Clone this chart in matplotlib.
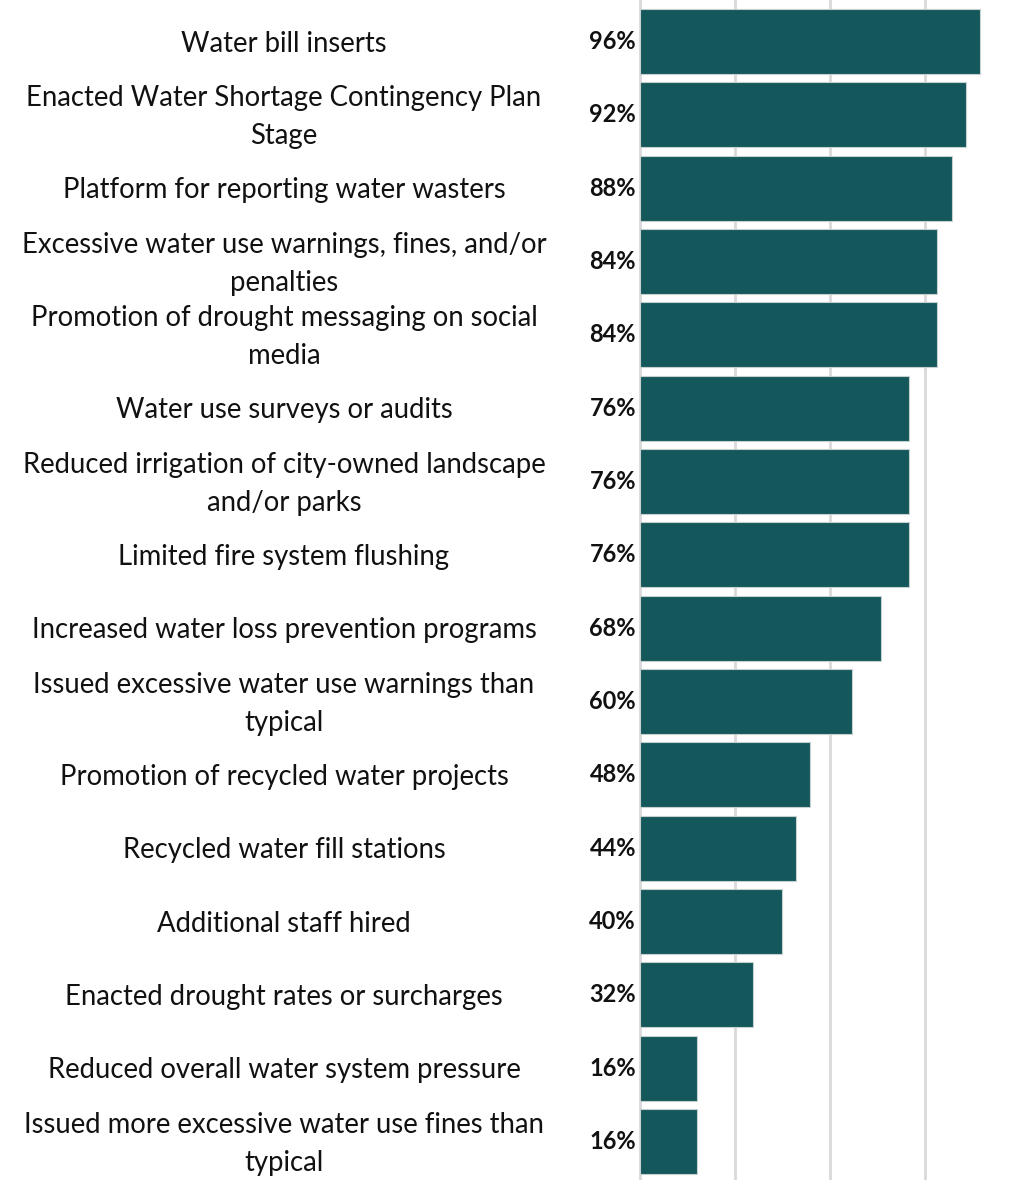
import matplotlib.pyplot as plt
from matplotlib.transforms import blended_transform_factory

categories = [
    "Water bill inserts",
    "Enacted Water Shortage Contingency Plan\nStage",
    "Platform for reporting water wasters",
    "Excessive water use warnings, fines, and/or\npenalties",
    "Promotion of drought messaging on social\nmedia",
    "Water use surveys or audits",
    "Reduced irrigation of city-owned landscape\nand/or parks",
    "Limited fire system flushing",
    "Increased water loss prevention programs",
    "Issued excessive water use warnings than\ntypical",
    "Promotion of recycled water projects",
    "Recycled water fill stations",
    "Additional staff hired",
    "Enacted drought rates or surcharges",
    "Reduced overall water system pressure",
    "Issued more excessive water use fines than\ntypical",
]
values = [96, 92, 88, 84, 84, 76, 76, 76, 68, 60, 48, 44, 40, 32, 16, 16]
grid_ticks = [26.8, 53.6, 80.4, 107.2]

bar_color = "#14585c"
font = ["Lato", "DejaVu Sans"]

fig = plt.figure(figsize=(10.2, 11.8), dpi=100)
ax = fig.add_axes([640 / 1020, 0, 1 - 640 / 1020, 1])

ypos = list(range(len(values)))
ax.barh(ypos, values, height=0.89, color=bar_color, edgecolor="#c8cfcf",
        linewidth=0.8, zorder=3)

ax.set_xlim(0, 107.3)
ax.set_ylim(15.525, -0.566)
ax.set_xticks(grid_ticks)
ax.set_yticks([])
ax.xaxis.grid(True, color="#d9d9d9", linewidth=2, zorder=0)
ax.tick_params(axis="x", length=0, labelbottom=False)
for s in ["top", "right", "bottom"]:
    ax.spines[s].set_visible(False)
ax.spines["left"].set_color("#d9d9d9")
ax.spines["left"].set_linewidth(2)
ax.spines["left"].set_zorder(2)

trans = blended_transform_factory(fig.transFigure, ax.transData)
for y, cat, v in zip(ypos, categories, values):
    ax.text(284 / 1020, y + 0.03, cat, transform=trans, ha="center", va="center",
            fontsize=19.8, family=font, linespacing=1.58, color="#111111")
    ax.text(636 / 1020, y, f"{v}%", transform=trans, ha="right", va="center",
            fontsize=17, family=font, fontweight="bold", color="#111111")

fig.savefig("out.png", dpi=100)
